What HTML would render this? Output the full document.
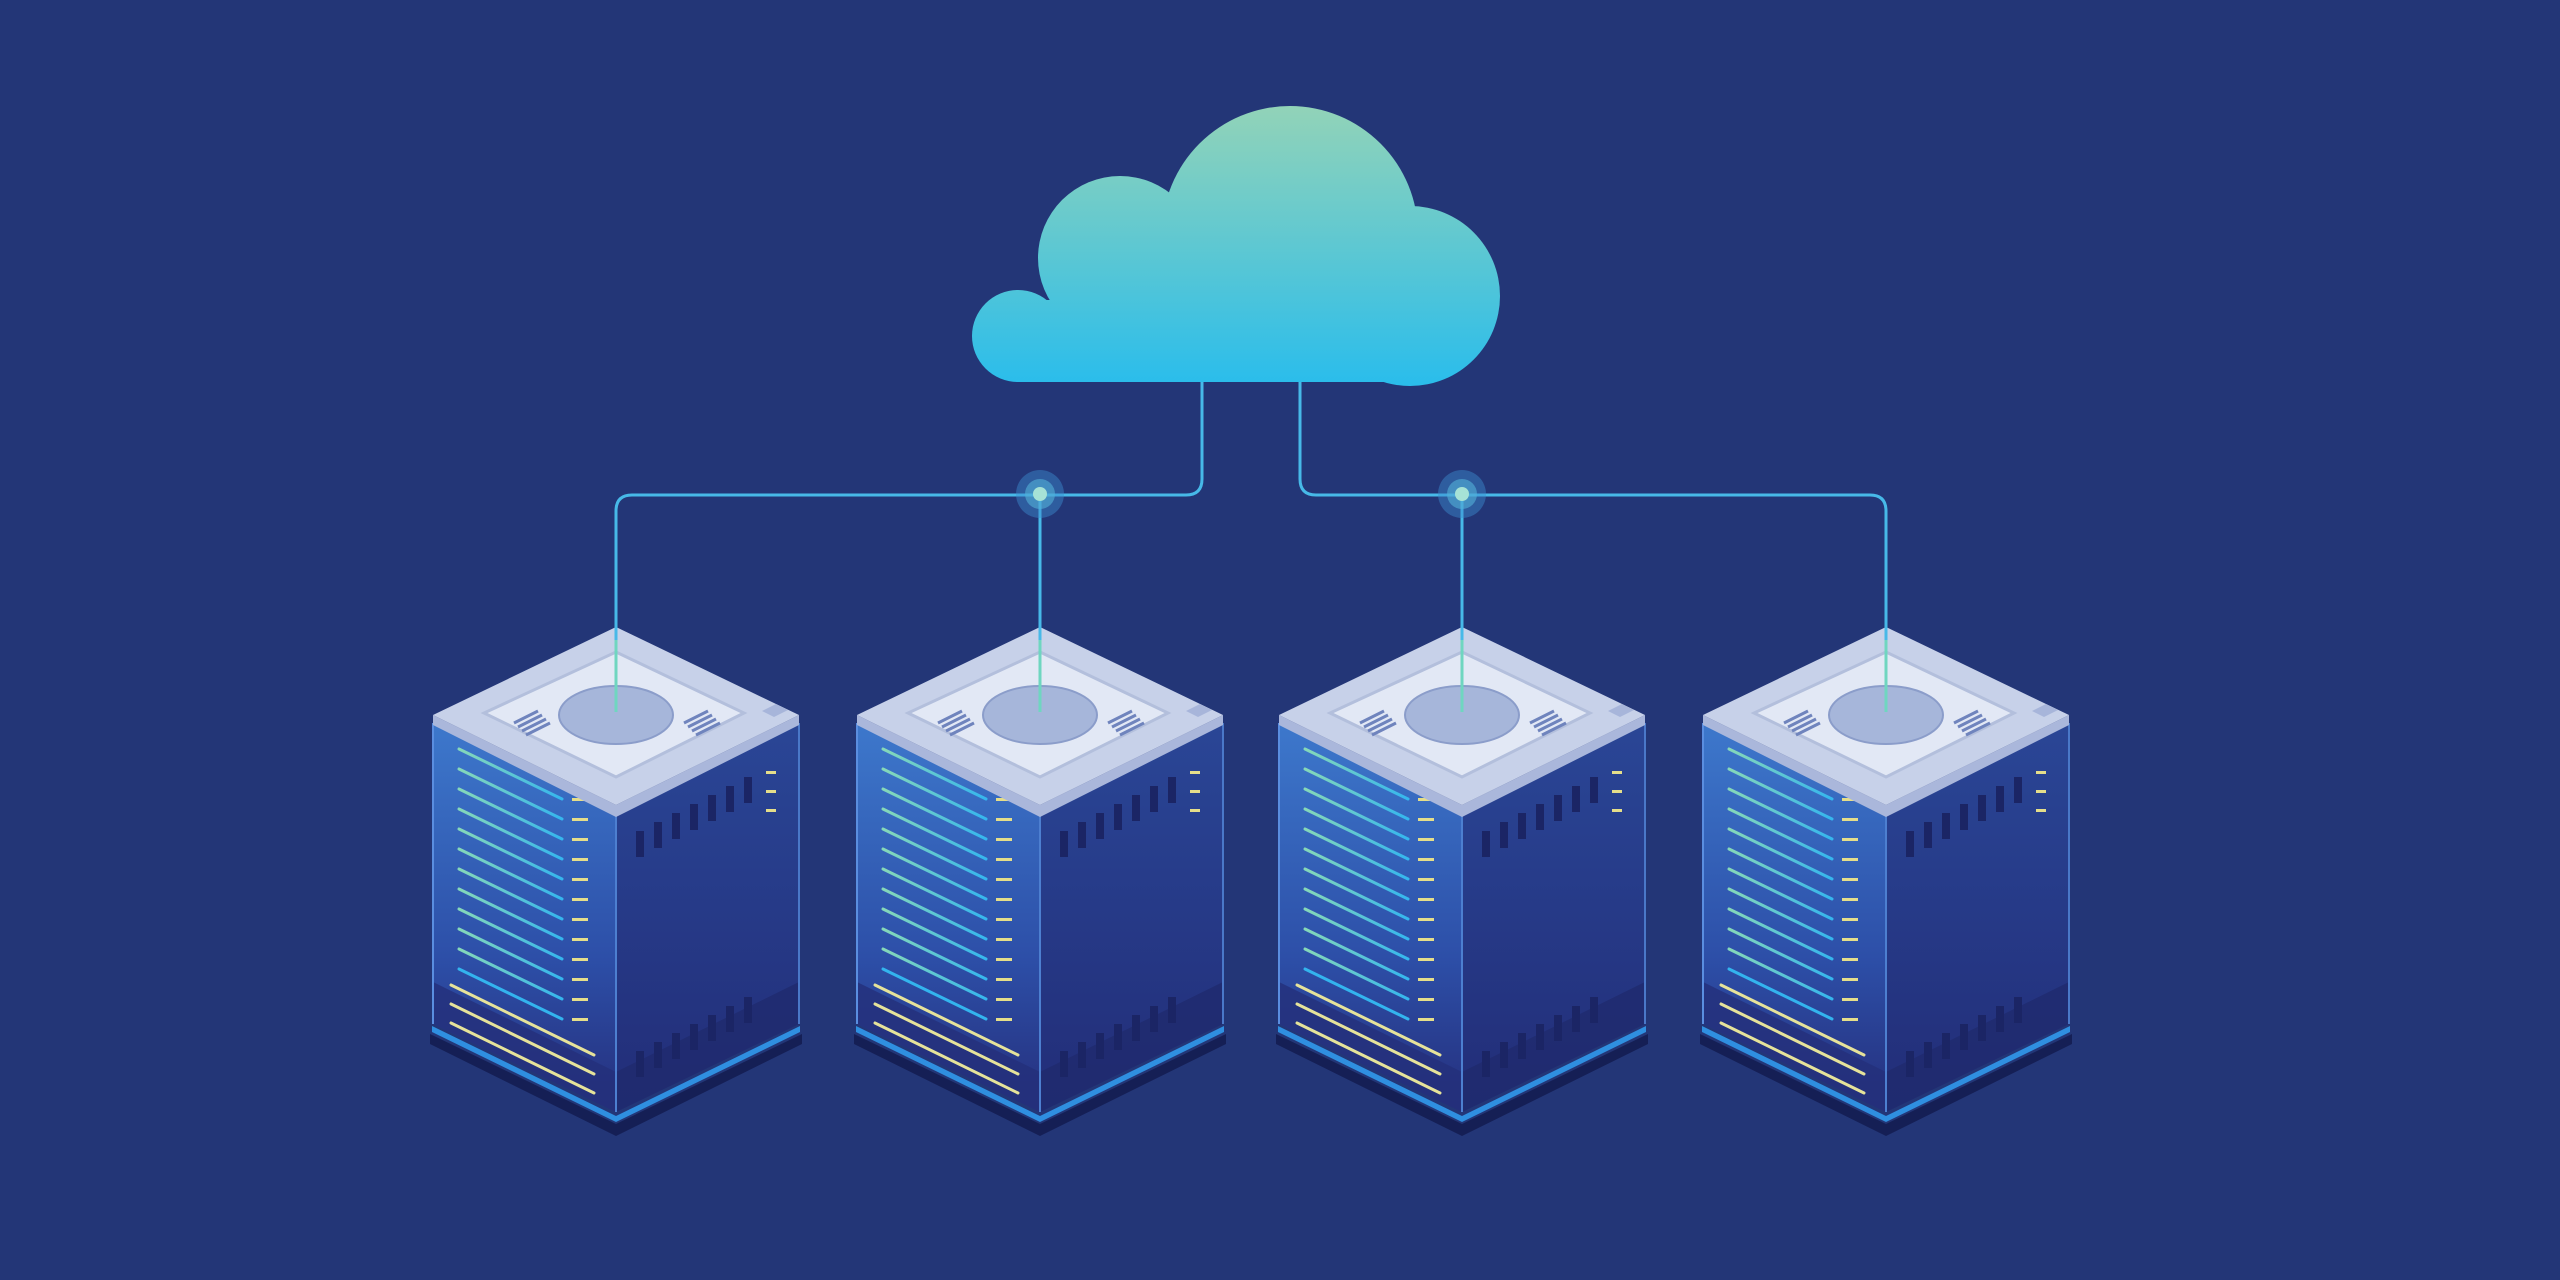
<!DOCTYPE html>
<html><head><meta charset="utf-8"><style>html,body{margin:0;padding:0;background:#233677;}svg{display:block}</style></head>
<body>
<svg width="2560" height="1280" viewBox="0 0 2560 1280" xmlns="http://www.w3.org/2000/svg">
<defs>
<linearGradient id="cg" gradientUnits="userSpaceOnUse" x1="0" y1="106" x2="0" y2="382">
<stop offset="0" stop-color="#92d3b8"/><stop offset="1" stop-color="#2bbdeb"/></linearGradient>
<linearGradient id="lf" x1="0" y1="0" x2="0" y2="1">
<stop offset="0" stop-color="#3d78cc"/><stop offset="0.6" stop-color="#2d4fa8"/><stop offset="1" stop-color="#252f7c"/></linearGradient>
<linearGradient id="rf" x1="0" y1="0" x2="0" y2="1">
<stop offset="0" stop-color="#2a4696"/><stop offset="1" stop-color="#222d78"/></linearGradient>
<linearGradient id="ln" x1="0" y1="0" x2="0" y2="1">
<stop offset="0" stop-color="#86d8b8"/><stop offset="1" stop-color="#35b6ee"/></linearGradient>
<g id="srv">
  <polygon points="-186,407 0,497 186,407 186,417 0,509 -186,417" fill="#151f55"/>
  <polygon points="-184,399 0,489 184,399 184,405 0,495 -184,405" fill="#2f8fe0"/>
  <polygon points="-183,96 0,186 0,485 -183,397" fill="url(#lf)"/>
  <polygon points="0,186 183,96 183,397 0,485" fill="url(#rf)"/>
  <polygon points="-183,355 0,445 0,485 -183,397" fill="#24307a" opacity="0.8"/>
  <polygon points="0,445 183,355 183,397 0,485" fill="#1f2a6e" opacity="0.8"/>
  <line x1="0" y1="186" x2="0" y2="485" stroke="#4d7fd0" stroke-width="2"/>
  <line x1="-183" y1="96" x2="-183" y2="397" stroke="#5a8ee0" stroke-width="2"/>
  <line x1="183" y1="96" x2="183" y2="397" stroke="#4a78c8" stroke-width="2"/>
  <g stroke-width="3" stroke-linecap="round">
    <g stroke="url(#ln)">
      <line x1="-157" y1="122" x2="-54" y2="172"/>
      <line x1="-157" y1="142" x2="-54" y2="192"/>
      <line x1="-157" y1="162" x2="-54" y2="212"/>
      <line x1="-157" y1="182" x2="-54" y2="232"/>
      <line x1="-157" y1="202" x2="-54" y2="252"/>
      <line x1="-157" y1="222" x2="-54" y2="272"/>
      <line x1="-157" y1="242" x2="-54" y2="292"/>
      <line x1="-157" y1="262" x2="-54" y2="312"/>
      <line x1="-157" y1="282" x2="-54" y2="332"/>
      <line x1="-157" y1="302" x2="-54" y2="352"/>
      <line x1="-157" y1="322" x2="-54" y2="372"/>
      <line x1="-157" y1="342" x2="-54" y2="392" stroke="#33b4ee"/>
    </g>
    <g stroke="#e6e39a">
      <line x1="-165" y1="358" x2="-22" y2="428"/>
      <line x1="-165" y1="377" x2="-22" y2="447"/>
      <line x1="-165" y1="396" x2="-22" y2="466"/>
    </g>
  </g>
  <g fill="#e5de8a">
    <rect x="-44" y="171" width="16" height="3"/><rect x="-44" y="191" width="16" height="3"/>
    <rect x="-44" y="211" width="16" height="3"/><rect x="-44" y="231" width="16" height="3"/>
    <rect x="-44" y="251" width="16" height="3"/><rect x="-44" y="271" width="16" height="3"/>
    <rect x="-44" y="291" width="16" height="3"/><rect x="-44" y="311" width="16" height="3"/>
    <rect x="-44" y="331" width="16" height="3"/><rect x="-44" y="351" width="16" height="3"/>
    <rect x="-44" y="371" width="16" height="3"/><rect x="-44" y="391" width="16" height="3"/>
    <rect x="150" y="144" width="10" height="3"/><rect x="150" y="163" width="10" height="3"/><rect x="150" y="182" width="10" height="3"/>
  </g>
  <g fill="#1b2565">
    <rect x="20" y="204" width="8" height="26"/><rect x="38" y="195" width="8" height="26"/><rect x="56" y="186" width="8" height="26"/>
    <rect x="74" y="177" width="8" height="26"/><rect x="92" y="168" width="8" height="26"/><rect x="110" y="159" width="8" height="26"/>
    <rect x="128" y="150" width="8" height="26"/>
    <rect x="20" y="424" width="8" height="26"/><rect x="38" y="415" width="8" height="26"/><rect x="56" y="406" width="8" height="26"/>
    <rect x="74" y="397" width="8" height="26"/><rect x="92" y="388" width="8" height="26"/><rect x="110" y="379" width="8" height="26"/>
    <rect x="128" y="370" width="8" height="26"/>
  </g>
  <polygon points="-183,88 0,178 183,88 183,98 0,190 -183,98" fill="#aab7db"/>
  <polygon points="0,0 183,88 0,178 -183,88" fill="#c7d1e9"/>
  <polygon points="0,25 128,86 0,150 -132,86" fill="#e2e8f5" stroke="#b3bfdc" stroke-width="3"/>
  <ellipse cx="0" cy="88" rx="57" ry="29" fill="#a6b6da" stroke="#8b9dca" stroke-width="2"/>
  <g stroke="#6f84bd" stroke-width="3">
    <line x1="-102" y1="96" x2="-78" y2="84"/><line x1="-98" y1="100" x2="-74" y2="88"/>
    <line x1="-94" y1="104" x2="-70" y2="92"/><line x1="-90" y1="108" x2="-66" y2="96"/>
    <line x1="68" y1="96" x2="92" y2="84"/><line x1="72" y1="100" x2="96" y2="88"/>
    <line x1="76" y1="104" x2="100" y2="92"/><line x1="80" y1="108" x2="104" y2="96"/>
  </g>
  <polygon points="146,84 160,77 172,83 158,90" fill="#a7b5da"/>
</g>
</defs>
<rect width="2560" height="1280" fill="#233677"/>
<g fill="url(#cg)">
  <circle cx="1290" cy="234" r="128"/>
  <circle cx="1120" cy="258" r="82"/>
  <circle cx="1018" cy="336" r="46"/>
  <circle cx="1410" cy="296" r="90"/>
  <rect x="1018" y="300" width="400" height="82"/>
  <rect x="1100" y="250" width="320" height="132"/>
</g>
<use href="#srv" transform="translate(616,627)"/>
<use href="#srv" transform="translate(1040,627)"/>
<use href="#srv" transform="translate(1462,627)"/>
<use href="#srv" transform="translate(1886,627)"/>
<g fill="none" stroke="#47b9e8" stroke-width="3">
  <path d="M1202 382 V479 Q1202 495 1186 495 H632 Q616 495 616 511 V712"/>
  <path d="M1300 382 V479 Q1300 495 1316 495 H1870 Q1886 495 1886 511 V712"/>
  <path d="M1040 495 V712"/>
  <path d="M1462 495 V712"/>
</g>
<g stroke="#6fd6c0" stroke-width="3">
  <line x1="616" y1="640" x2="616" y2="712"/><line x1="1040" y1="640" x2="1040" y2="712"/>
  <line x1="1462" y1="640" x2="1462" y2="712"/><line x1="1886" y1="640" x2="1886" y2="712"/>
</g>
<g>
  <circle cx="1040" cy="494" r="24" fill="#3b8fd0" opacity="0.45"/>
  <circle cx="1040" cy="494" r="15" fill="#54b0d8" opacity="0.6"/>
  <circle cx="1040" cy="494" r="7" fill="#a6e2d6"/>
  <circle cx="1462" cy="494" r="24" fill="#3b8fd0" opacity="0.45"/>
  <circle cx="1462" cy="494" r="15" fill="#54b0d8" opacity="0.6"/>
  <circle cx="1462" cy="494" r="7" fill="#a6e2d6"/>
</g>
</svg>
</body></html>
